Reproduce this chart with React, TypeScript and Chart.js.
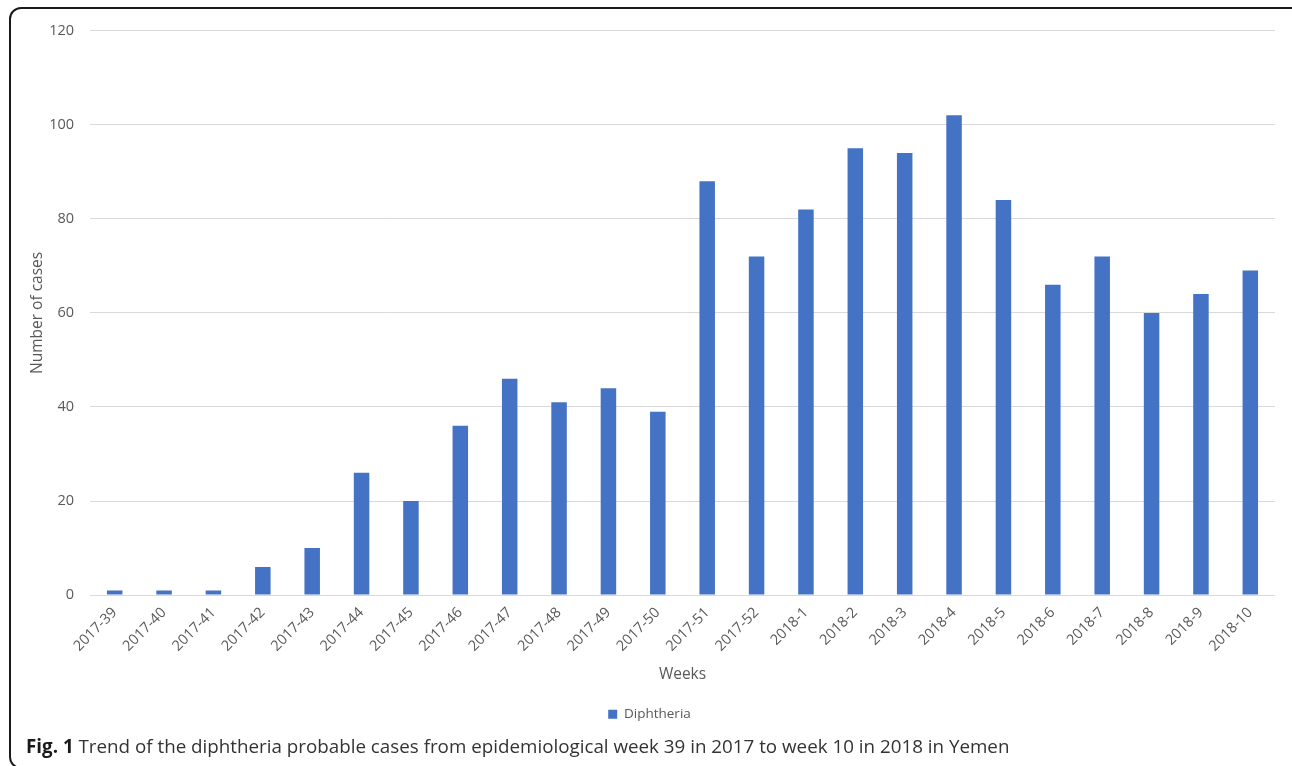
import React, { useEffect, useRef } from "react";
import { Chart, registerables } from "chart.js";

Chart.register(...registerables);

const weeks = [
  "2017-39", "2017-40", "2017-41", "2017-42", "2017-43", "2017-44", "2017-45", "2017-46",
  "2017-47", "2017-48", "2017-49", "2017-50", "2017-51", "2017-52", "2018-1", "2018-2",
  "2018-3", "2018-4", "2018-5", "2018-6", "2018-7", "2018-8", "2018-9", "2018-10",
];
const diphtheria = [1, 1, 1, 6, 10, 26, 20, 36, 46, 41, 44, 39, 88, 72, 82, 95, 94, 102, 84, 66, 72, 60, 64, 69];
const seriesName = "Diphtheria";
const yMin = 0;
const yMax = 120;
const yStep = 20;
const xTitle = "Weeks";
const yTitle = "Number of cases";

const FONT = "'Open Sans', 'Noto Sans', sans-serif";
const TEXT = "#595959";

export default function App() {
  const ref = useRef<HTMLCanvasElement | null>(null);

  useEffect(() => {
    if (!ref.current) return;
    const chart = new Chart(ref.current, {
      type: "bar",
      data: {
        labels: weeks,
        datasets: [
          {
            label: seriesName,
            data: diphtheria,
            backgroundColor: "#4472C4",
            borderWidth: 0,
            categoryPercentage: 1,
            barPercentage: 0.314,
          },
        ],
      },
      options: {
        animation: false,
        responsive: true,
        maintainAspectRatio: false,
        layout: { padding: { top: 5, right: 0, left: 12, bottom: 4 } },
        plugins: {
          tooltip: { enabled: false },
          legend: {
            position: "bottom",
            labels: {
              boxWidth: 9,
              boxHeight: 9,
              color: TEXT,
              font: { family: FONT, size: 13.5 },
              padding: 14,
            },
          },
        },
        scales: {
          x: {
            grid: { display: false, drawTicks: false },
            border: { color: "#d9d9d9", width: 1 },
            ticks: {
              color: TEXT,
              font: { family: FONT, size: 14.5 },
              maxRotation: 45,
              minRotation: 45,
              autoSkip: false,
              padding: 9,
            },
            title: {
              display: true,
              text: xTitle,
              color: TEXT,
              font: { family: FONT, size: 15.5 },
              padding: { top: 1, bottom: 10 },
            },
          },
          y: {
            min: yMin,
            max: yMax,
            afterFit: (scale: any) => {
              scale.width = 66;
            },
            grid: { color: "#d9d9d9", drawTicks: false },
            border: { display: false },
            ticks: {
              stepSize: yStep,
              color: TEXT,
              font: { family: FONT, size: 14.5 },
              padding: 16,
            },
            title: {
              display: true,
              text: yTitle,
              color: TEXT,
              font: { family: FONT, size: 15.5 },
              padding: { top: 4, bottom: 0 },
            },
          },
        },
      },
    });
    return () => chart.destroy();
  }, []);

  return (
    <div
      style={{
        position: "fixed",
        left: 0,
        top: 0,
        width: 1292,
        height: 766,
        overflow: "hidden",
        background: "#fff",
      }}
    >
      <div
        style={{
          position: "absolute",
          left: 9,
          top: 7,
          width: 1290,
          height: 758,
          border: "2px solid #1a1a1a",
          borderRadius: 12,
        }}
      />
      <div style={{ position: "absolute", left: 12, top: 6, width: 1263, height: 729 }}>
        <canvas ref={ref} />
      </div>
      <div
        style={{
          position: "absolute",
          left: 26,
          top: 733,
          fontFamily: FONT,
          fontSize: 18.8,
          color: "#333",
          whiteSpace: "nowrap",
          lineHeight: "26px",
        }}
      >
        <b style={{ color: "#1a1a1a" }}>Fig. 1</b> Trend of the diphtheria probable cases from epidemiological week 39 in 2017 to week 10 in 2018 in Yemen
      </div>
    </div>
  );
}
